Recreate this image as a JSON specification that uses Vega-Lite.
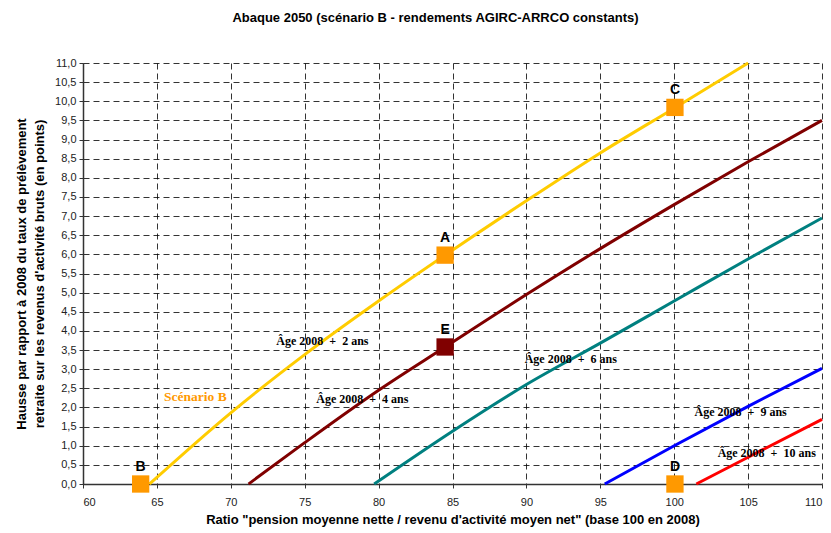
{
  "$schema": "https://vega.github.io/schema/vega-lite/v6.json",
  "autosize": "none",
  "width": 739,
  "height": 421,
  "padding": {"left": 83, "top": 63, "right": 9, "bottom": 49},
  "background": "white",
  "title": {
    "text": "Abaque 2050 (scénario B - rendements AGIRC-ARRCO constants)",
    "font": "Liberation Sans",
    "fontSize": 13,
    "fontWeight": "bold",
    "color": "#000",
    "anchor": "middle",
    "frame": "group",
    "offset": 32,
    "dx": -17
  },
  "config": {
    "view": {"stroke": null},
    "axis": {
      "labelFont": "Liberation Sans",
      "labelFontSize": 11,
      "labelColor": "#222",
      "titleFont": "Liberation Sans",
      "titleFontSize": 13,
      "titleFontWeight": "bold",
      "titleColor": "#000",
      "domainColor": "#333",
      "domainWidth": 1.5,
      "tickColor": "#333",
      "tickSize": 4,
      "grid": true,
      "gridColor": "#000",
      "gridDash": [6, 4],
      "gridOpacity": 0.8,
      "gridWidth": 1
    }
  },
  "datasets": {
    "courbes": [
      {"serie": "yellow", "x": 64.5, "y": 0},
      {"serie": "yellow", "x": 70, "y": 1.86},
      {"serie": "yellow", "x": 75, "y": 3.38},
      {"serie": "yellow", "x": 80, "y": 4.78},
      {"serie": "yellow", "x": 84.5, "y": 5.98},
      {"serie": "yellow", "x": 90, "y": 7.4},
      {"serie": "yellow", "x": 95, "y": 8.65},
      {"serie": "yellow", "x": 100, "y": 9.82},
      {"serie": "yellow", "x": 105, "y": 11.0},
      {"serie": "darkred", "x": 71.2, "y": 0},
      {"serie": "darkred", "x": 75, "y": 1.08},
      {"serie": "darkred", "x": 80, "y": 2.45},
      {"serie": "darkred", "x": 84.5, "y": 3.58},
      {"serie": "darkred", "x": 90, "y": 4.95},
      {"serie": "darkred", "x": 95, "y": 6.15},
      {"serie": "darkred", "x": 100, "y": 7.3},
      {"serie": "darkred", "x": 105, "y": 8.42},
      {"serie": "darkred", "x": 110, "y": 9.5},
      {"serie": "teal", "x": 79.7, "y": 0},
      {"serie": "teal", "x": 85, "y": 1.38},
      {"serie": "teal", "x": 90, "y": 2.6},
      {"serie": "teal", "x": 95, "y": 3.68},
      {"serie": "teal", "x": 100, "y": 4.78},
      {"serie": "teal", "x": 105, "y": 5.88},
      {"serie": "teal", "x": 110, "y": 6.95},
      {"serie": "blue", "x": 95.3, "y": 0},
      {"serie": "blue", "x": 100, "y": 1.0},
      {"serie": "blue", "x": 105, "y": 2.03},
      {"serie": "blue", "x": 110, "y": 3.02},
      {"serie": "red", "x": 101.5, "y": 0},
      {"serie": "red", "x": 105, "y": 0.7},
      {"serie": "red", "x": 110, "y": 1.69}
    ],
    "points": [
      {"lettre": "B", "x": 63.9, "y": 0, "couleur": "orange"},
      {"lettre": "A", "x": 84.5, "y": 5.98, "couleur": "orange"},
      {"lettre": "C", "x": 100.05, "y": 9.84, "couleur": "orange"},
      {"lettre": "D", "x": 100.05, "y": 0, "couleur": "orange"},
      {"lettre": "E", "x": 84.5, "y": 3.58, "couleur": "darkred"}
    ],
    "etiquettes": [
      {"texte": "Âge 2008 \u00a0+\u00a0 2 ans", "x": 76.2, "y": 3.74},
      {"texte": "Âge 2008 \u00a0+\u00a0 4 ans", "x": 78.9, "y": 2.22},
      {"texte": "Âge 2008 \u00a0+\u00a0 6 ans", "x": 93.0, "y": 3.26},
      {"texte": "Âge 2008 \u00a0+\u00a0 9 ans", "x": 104.5, "y": 1.89},
      {"texte": "Âge 2008 \u00a0+\u00a0 10 ans", "x": 106.26, "y": 0.8}
    ],
    "scenario": [
      {"texte": "Scénario B", "x": 67.6, "y": 2.28}
    ]
  },
  "encoding": {
    "x": {
      "field": "x",
      "type": "quantitative",
      "scale": {"domain": [60, 110], "nice": false, "zero": false},
      "axis": {
        "title": "Ratio \"pension moyenne nette / revenu d'activité moyen net\" (base 100 en 2008)",
        "values": [60, 65, 70, 75, 80, 85, 90, 95, 100, 105, 110],
        "labelPadding": 8,
        "titlePadding": 6
      }
    },
    "y": {
      "field": "y",
      "type": "quantitative",
      "scale": {"domain": [0, 11], "nice": false},
      "axis": {
        "title": ["Hausse par rapport à 2008 du taux de prélèvement", "retraite sur les revenus d'activité bruts (en points)"],
        "values": [0, 0.5, 1, 1.5, 2, 2.5, 3, 3.5, 4, 4.5, 5, 5.5, 6, 6.5, 7, 7.5, 8, 8.5, 9, 9.5, 10, 10.5, 11],
        "labelExpr": "replace(format(datum.value, '.1f'), '.', ',')",
        "titleLineHeight": 18,
        "titlePadding": 8,
        "labelPadding": 3
      }
    }
  },
  "layer": [
    {
      "data": {"name": "courbes"},
      "mark": {"type": "line", "strokeWidth": 3, "interpolate": "monotone"},
      "encoding": {
        "detail": {"field": "serie"},
        "color": {
          "field": "serie",
          "type": "nominal",
          "scale": {
            "domain": ["yellow", "darkred", "teal", "blue", "red"],
            "range": ["#FFCC00", "#800000", "#008080", "#0000FF", "#FF0000"]
          },
          "legend": null
        }
      }
    },
    {
      "data": {"name": "etiquettes"},
      "mark": {"type": "text", "font": "Liberation Serif", "fontWeight": "bold", "fontSize": 12, "align": "center", "baseline": "middle", "color": "#000"},
      "encoding": {
        "text": {"field": "texte"}
      }
    },
    {
      "data": {"name": "scenario"},
      "mark": {"type": "text", "font": "Liberation Serif", "fontWeight": "bold", "fontSize": 13.5, "align": "center", "baseline": "middle", "color": "#FF9900"},
      "encoding": {
        "text": {"field": "texte"}
      }
    },
    {
      "data": {"name": "points"},
      "mark": {"type": "point", "shape": "square", "filled": true, "size": 300, "opacity": 1},
      "encoding": {
        "fill": {
          "field": "couleur",
          "type": "nominal",
          "scale": {"domain": ["orange", "darkred"], "range": ["#FF9900", "#800000"]},
          "legend": null
        }
      }
    },
    {
      "data": {"name": "points"},
      "mark": {"type": "text", "font": "Liberation Sans", "fontWeight": "bold", "fontSize": 14, "dy": -17, "color": "#000", "baseline": "middle"},
      "encoding": {
        "text": {"field": "lettre"}
      }
    }
  ],
  "resolve": {"scale": {"color": "independent", "fill": "independent"}}
}
